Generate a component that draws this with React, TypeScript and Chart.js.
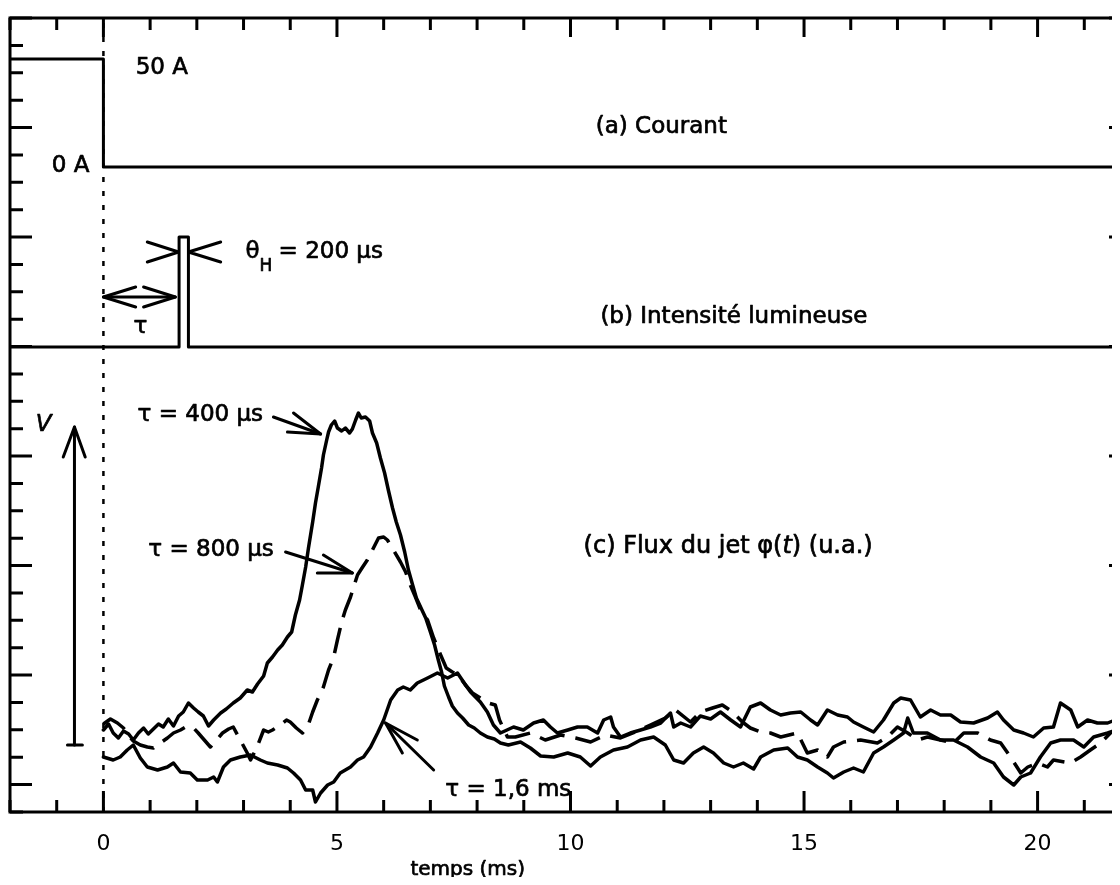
import React, { useEffect, useRef } from "react";
import { Chart, registerables } from "chart.js";

Chart.register(...registerables);

const INK = "#000";
const FONT = '"DejaVu Sans", "Liberation Sans", sans-serif';

// ---------- axes ----------
const X_MIN = -2;
const X_MAX = 22;
const Y_MIN = 0;
const Y_MAX = 794; // arbitrary units (u.a.)
const Y_TICK_COUNT = 29;
const X_LABEL_VALUES = [0, 5, 10, 15, 20];
const X_TICK_LABELS = ["0", "5", "10", "15", "20"];
const X_TITLE = "temps (ms)";

// ---------- (a) courant ----------
const CURRENT_T = [-2, 0, 0, 22];
const CURRENT_V = [753, 753, 645, 645];

// ---------- (b) intensité lumineuse ----------
const LIGHT_T = [-2, 1.62, 1.62, 1.82, 1.82, 22];
const LIGHT_V = [465, 465, 575, 575, 465, 465];

// ---------- t = 0 marker ----------
const ZERO_T = [0, 0];
const ZERO_V = [0, 794];

// ---------- (c) flux, tau = 400 us ----------
const T_400 = [0.00,0.11,0.21,0.32,0.43,0.54,0.64,0.75,0.86,0.96,1.07,1.18,1.28,1.39,1.50,1.61,1.71,1.82,1.93,2.03,2.14,2.25,2.36,2.51,2.63,2.78,2.93,3.08,3.19,3.30,3.43,3.51,3.62,3.73,3.83,3.94,4.03,4.11,4.20,4.26,4.33,4.39,4.48,4.54,4.60,4.67,4.71,4.78,4.82,4.88,4.95,5.01,5.10,5.18,5.27,5.33,5.40,5.46,5.52,5.61,5.70,5.76,5.85,5.93,6.02,6.10,6.19,6.27,6.36,6.45,6.53,6.62,6.70,6.79,6.90,7.00,7.09,7.17,7.24,7.30,7.39,7.47,7.58,7.69,7.82,7.94,8.07,8.22,8.37,8.50,8.67,8.93,9.14,9.36,9.64,9.94,10.21,10.43,10.64,10.92,11.22,11.50,11.78,12.03,12.21,12.42,12.63,12.85,13.06,13.28,13.49,13.70,13.92,14.07,14.35,14.65,14.86,15.07,15.29,15.50,15.63,15.85,16.06,16.27,16.49,16.70,16.92,17.13,17.22,17.34,17.64,17.92,18.20,18.50,18.78,19.06,19.27,19.49,19.64,19.85,20.06,20.28,20.49,20.77,20.99,21.20,21.50,21.82,22.00];
const V_400 = [82,88,79,74,81,78,72,79,84,78,83,88,85,93,86,96,100,109,104,100,96,86,92,99,103,109,114,122,120,128,136,149,155,162,167,175,180,197,212,227,245,264,290,309,325,344,357,372,380,387,391,384,381,384,379,383,392,399,394,395,391,379,369,354,339,322,304,290,277,260,242,227,214,205,194,180,167,152,140,126,115,106,99,94,87,84,79,75,73,69,67,70,64,56,55,59,55,46,55,62,65,72,75,67,52,49,59,65,59,49,45,49,43,55,62,64,55,52,45,39,34,40,44,40,59,65,72,79,94,79,79,72,72,65,55,49,35,27,35,39,55,69,72,72,65,75,79,84,86];

// ---------- (c) flux, tau = 800 us (dashed) ----------
const T_800 = [0.00,0.15,0.30,0.43,0.54,0.64,0.79,0.94,1.07,1.22,1.37,1.50,1.65,1.76,1.91,2.03,2.16,2.29,2.42,2.55,2.68,2.78,2.93,3.08,3.15,3.28,3.43,3.53,3.62,3.79,3.92,4.00,4.13,4.26,4.37,4.48,4.58,4.71,4.82,4.93,5.01,5.10,5.18,5.29,5.37,5.44,5.55,5.65,5.76,5.89,6.00,6.08,6.21,6.36,6.47,6.57,6.68,6.79,6.94,7.07,7.22,7.34,7.47,7.60,7.75,7.90,8.07,8.24,8.39,8.48,8.65,8.82,9.14,9.46,9.79,10.11,10.43,10.75,11.07,11.39,11.71,12.03,12.25,12.57,12.78,13.04,13.25,13.47,13.68,13.85,14.07,14.28,14.50,14.86,15.07,15.29,15.50,15.63,15.85,16.21,16.57,16.79,17.00,17.22,17.43,17.64,17.92,18.20,18.42,18.72,18.99,19.21,19.42,19.64,19.79,20.00,20.21,20.34,20.71,20.92,21.13,21.35,21.56,21.82,22.00];
const V_800 = [88,93,89,84,76,71,67,65,64,69,74,79,82,85,85,79,72,65,72,79,83,85,72,59,52,64,82,80,82,87,92,90,84,79,85,100,112,125,142,155,172,190,202,215,227,237,245,252,262,274,275,272,262,250,240,227,215,202,192,174,157,144,140,137,127,119,114,109,107,92,75,75,79,72,77,74,70,77,74,80,87,94,102,90,100,104,107,100,90,84,80,79,75,79,59,62,55,65,70,72,69,75,85,79,72,75,72,69,79,79,72,69,55,39,45,49,45,52,49,55,62,69,79,84,86];

// ---------- (c) flux, tau = 1,6 ms ----------
const T_1600 = [0.00,0.21,0.36,0.51,0.64,0.79,0.94,1.16,1.37,1.50,1.65,1.86,2.01,2.23,2.36,2.44,2.57,2.72,2.93,3.15,3.36,3.51,3.73,3.94,4.07,4.22,4.33,4.48,4.54,4.65,4.80,4.93,5.07,5.29,5.44,5.57,5.72,5.87,6.00,6.15,6.30,6.42,6.57,6.72,6.94,7.15,7.37,7.58,7.71,7.86,8.07,8.22,8.35,8.50,8.78,8.99,9.21,9.42,9.57,9.72,9.94,10.15,10.36,10.58,10.71,10.86,10.92,11.07,11.28,11.50,11.71,11.93,12.14,12.21,12.36,12.57,12.78,13.00,13.21,13.43,13.64,13.85,14.07,14.28,14.50,14.71,14.93,15.14,15.29,15.50,15.72,15.93,16.06,16.27,16.49,16.70,16.92,17.07,17.28,17.49,17.71,17.92,18.14,18.35,18.63,18.93,19.14,19.27,19.49,19.70,19.91,20.13,20.34,20.49,20.71,20.86,21.07,21.28,21.50,21.82,22.00];
const V_1600 = [55,52,55,62,67,54,45,42,45,49,40,39,32,32,35,30,45,52,55,57,52,49,47,44,39,32,22,22,10,19,27,30,39,45,52,55,65,79,92,112,122,125,122,129,134,139,134,139,130,120,110,100,87,79,85,82,89,92,85,79,82,85,85,79,92,95,85,75,79,82,85,89,99,85,89,85,96,93,100,92,85,105,109,102,97,99,100,92,87,102,97,95,90,85,80,92,109,114,112,95,102,97,97,90,89,94,100,92,82,79,75,84,85,109,102,85,92,89,89,95,96];

// ---------- annotations (data coordinates: t in ms, v in u.a.) ----------
const TEXTS = [
  { s: "50 A", t: 0.69, v: 744, align: "left" },
  { s: "0 A", t: -0.3, v: 646, align: "right" },
  { s: "(a) Courant", t: 10.54, v: 685, align: "left" },
  { s: "(b) Intensité lumineuse", t: 10.64, v: 495, align: "left" },
  { s: "τ", t: 0.79, v: 485, align: "center" },
  { s: "τ = 400 µs", t: 0.73, v: 397, align: "left" },
  { s: "τ = 800 µs", t: 0.96, v: 262, align: "left" },
  { s: "τ = 1,6 ms", t: 7.32, v: 22, align: "left" },
];
const POLYLINES: number[][][] = [
  // tau double arrow
  [[0, 515], [1.54, 515]],
  [[0.69, 525], [0, 515], [0.69, 505]],
  [[0.86, 525], [1.54, 515], [0.86, 505]],
  // theta_H chevrons
  [[0.94, 570], [1.61, 560], [0.94, 550]],
  [[2.51, 570], [1.82, 560], [2.51, 550]],
  // V scale arrow
  [[-0.62, 385], [-0.62, 67]],
  [[-0.86, 355], [-0.62, 385], [-0.39, 355]],
  [[-0.77, 67], [-0.45, 67]],
  // tau = 400 us arrow
  [[3.64, 395], [4.65, 378]],
  [[4.07, 399], [4.65, 378], [3.94, 380]],
  // tau = 800 us arrow
  [[3.9, 260], [5.33, 239]],
  [[4.71, 257], [5.33, 239], [4.58, 239]],
  // tau = 1,6 ms arrow
  [[6.04, 89], [7.07, 42]],
  [[6.72, 72], [6.04, 89], [6.4, 59]],
];

const pts = (T: number[], V: number[]) => T.map((t, i) => ({ x: t, y: V[i] }));

// fill + thin stroke to mimic the heavier scanned lettering
const ink = (ctx: any, s: string, x: number, y: number) => {
  ctx.fillText(s, x, y);
  ctx.strokeText(s, x, y);
};

const decor = {
  id: "decor",
  afterDatasetsDraw(chart: any) {
    const { ctx, chartArea: a } = chart;
    const xs = chart.scales.x;
    const ys = chart.scales.y;
    const X = (t: number) => xs.getPixelForValue(t);
    const Y = (v: number) => ys.getPixelForValue(v);
    ctx.save();
    ctx.strokeStyle = INK;
    ctx.fillStyle = INK;
    ctx.lineWidth = 3;
    ctx.lineCap = "butt";
    // frame
    ctx.strokeRect(a.left, a.top, a.right - a.left, a.bottom - a.top);
    // x ticks (top and bottom, inward)
    for (const tk of xs.ticks) {
      const px = X(tk.value);
      const long = Math.abs(tk.value % 5) < 1e-9;
      ctx.beginPath();
      ctx.moveTo(px, a.bottom);
      ctx.lineTo(px, a.bottom - (long ? 21 : 12));
      ctx.moveTo(px, a.top);
      ctx.lineTo(px, a.top + (long ? 19 : 12));
      ctx.stroke();
    }
    // y ticks (left and right, inward)
    for (let k = 0; k <= Y_TICK_COUNT; k++) {
      const py = Y(Y_MIN + (k * (Y_MAX - Y_MIN)) / Y_TICK_COUNT);
      const long = k % 4 === 1;
      ctx.beginPath();
      ctx.moveTo(a.left, py);
      ctx.lineTo(a.left + (long ? 22 : 13), py);
      ctx.moveTo(a.right, py);
      ctx.lineTo(a.right - (long ? 22 : 13), py);
      ctx.stroke();
    }
    // annotation lines
    ctx.lineCap = "round";
    ctx.lineJoin = "round";
    for (const pl of POLYLINES) {
      ctx.beginPath();
      pl.forEach(([t, v], i) => (i ? ctx.lineTo(X(t), Y(v)) : ctx.moveTo(X(t), Y(v))));
      ctx.stroke();
    }
    // texts
    ctx.lineWidth = 0.7;
    ctx.textBaseline = "middle";
    ctx.font = `23px ${FONT}`;
    for (const tx of TEXTS) {
      ctx.textAlign = tx.align;
      ink(ctx, tx.s, X(tx.t), Y(tx.v));
    }
    ctx.textAlign = "left";
    // theta_H = 200 us
    let x0 = X(3.04);
    const yT = Y(560);
    ink(ctx, "θ", x0, yT);
    x0 += ctx.measureText("θ").width;
    ctx.font = `17px ${FONT}`;
    ink(ctx, "H", x0, yT + 15);
    ctx.font = `23px ${FONT}`;
    ink(ctx, "= 200 µs", X(3.75), yT);
    // V label
    ctx.font = `italic 23px ${FONT}`;
    ctx.textAlign = "center";
    ink(ctx, "V", X(-1.28), Y(387));
    ctx.textAlign = "left";
    // (c) Flux du jet phi(t) (u.a.)
    let xc = X(10.28);
    const yc = Y(265);
    const segs: [string, string][] = [
      ["(c) Flux du jet φ(", `24px ${FONT}`],
      ["t", `italic 24px ${FONT}`],
      [") (u.a.)", `24px ${FONT}`],
    ];
    for (const [s, f] of segs) {
      ctx.font = f;
      ink(ctx, s, xc, yc);
      xc += ctx.measureText(s).width;
    }
    // x axis title
    ctx.font = `20px ${FONT}`;
    ctx.textAlign = "center";
    ink(ctx, X_TITLE, X(7.8), a.bottom + 58);
    ctx.restore();
  },
};

export default function App() {
  const ref = useRef<HTMLCanvasElement>(null);
  useEffect(() => {
    const line = (T: number[], V: number[], dash: number[] = []) => ({
      data: pts(T, V),
      borderColor: INK,
      borderWidth: 3.5,
      borderDash: dash,
      borderCapStyle: dash.length ? "butt" : "round",
      borderJoinStyle: "round",
      pointRadius: 0,
      tension: 0,
      fill: false,
    });
    const zero = { ...line(ZERO_T, ZERO_V, [5, 9]), borderWidth: 2.5 };
    const step = (T: number[], V: number[]) => ({ ...line(T, V), borderWidth: 3 });
    const chart = new Chart(ref.current as HTMLCanvasElement, {
      type: "line",
      data: {
        datasets: [
          zero as any,
          step(CURRENT_T, CURRENT_V) as any,
          step(LIGHT_T, LIGHT_V) as any,
          line(T_400, V_400) as any,
          line(T_800, V_800, [26, 11]) as any,
          line(T_1600, V_1600) as any,
        ],
      },
      options: {
        responsive: false,
        animation: false,
        devicePixelRatio: 1,
        events: [],
        layout: { padding: { left: 2, top: 10, right: 3, bottom: 0 }, autoPadding: false },
        plugins: { legend: { display: false }, tooltip: { enabled: false } },
        scales: {
          x: {
            type: "linear",
            min: X_MIN,
            max: X_MAX,
            position: "bottom",
            grid: { display: false, drawTicks: false },
            border: { display: false },
            ticks: {
              stepSize: 1,
              autoSkip: false,
              maxRotation: 0,
              padding: 19,
              color: INK,
              font: { family: FONT, size: 22 },
              callback: (v: any) => {
                const i = X_LABEL_VALUES.indexOf(Number(v));
                return i >= 0 ? X_TICK_LABELS[i] : "";
              },
            },
            afterFit: (s: any) => {
              s.height = 65;
              s.paddingLeft = 0;
              s.paddingRight = 0;
            },
          },
          y: { type: "linear", min: Y_MIN, max: Y_MAX, display: false },
        },
      },
      plugins: [decor],
    } as any);
    return () => chart.destroy();
  }, []);
  return (
    <div style={{ width: 1112, height: 869, overflow: "hidden" }}>
      <canvas ref={ref} width={1126} height={869} style={{ display: "block", width: 1126, height: 869 }} />
    </div>
  );
}
